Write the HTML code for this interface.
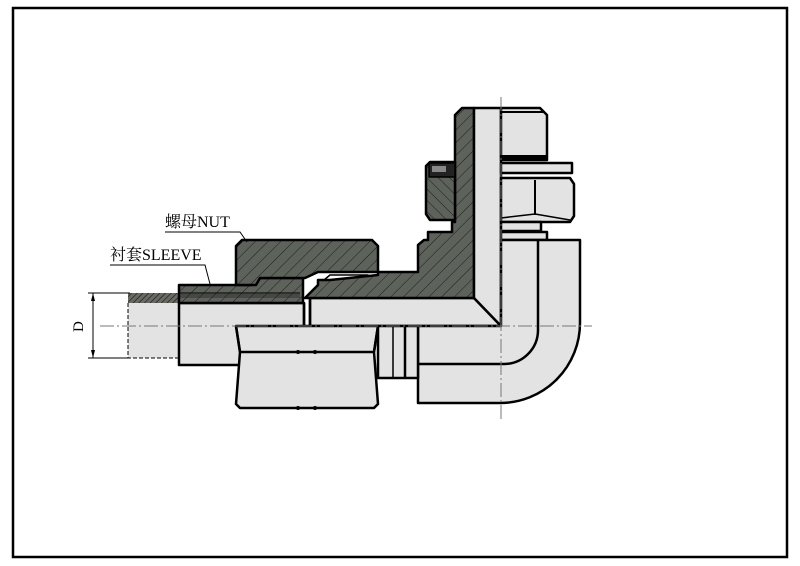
<!DOCTYPE html>
<html><head><meta charset="utf-8"><style>
html,body{margin:0;padding:0;background:#fff}
svg{display:block}
text{font-family:"Liberation Serif","Noto Serif CJK SC",serif}
</style></head><body>
<svg width="800" height="566" viewBox="0 0 800 566" xmlns="http://www.w3.org/2000/svg">
<defs>
<pattern id="h" width="9" height="9" patternUnits="userSpaceOnUse" patternTransform="rotate(45)">
<rect width="9" height="9" fill="#5d625b"/><line x1="0" y1="0" x2="0" y2="9" stroke="#1c1c1c" stroke-width="1"/>
</pattern>
<pattern id="h2" width="8" height="8" patternUnits="userSpaceOnUse" patternTransform="rotate(-45)">
<rect width="8" height="8" fill="#5d625b"/><line x1="0" y1="0" x2="0" y2="8" stroke="#1c1c1c" stroke-width="1"/>
</pattern>
<pattern id="hs" width="4" height="4" patternUnits="userSpaceOnUse" patternTransform="rotate(45)">
<rect width="4" height="4" fill="#6a6a64"/><line x1="0" y1="0" x2="0" y2="4" stroke="#111" stroke-width="1.2"/>
</pattern>
</defs>
<rect x="13" y="8" width="774" height="549" fill="#fff" stroke="#000" stroke-width="2.5"/>
<g stroke="#000" stroke-width="2.5" stroke-linejoin="round">
<!-- pipe -->
<rect x="128" y="303" width="52" height="55" fill="#e3e3e3" stroke="none"/>
<path d="M128 303 V358 H180" fill="none" stroke-width="1" stroke-dasharray="4,2"/>
<rect x="128" y="293" width="52" height="10" fill="url(#hs)" stroke="none"/>
<!-- sleeve / pipe inside -->
<rect x="179" y="303" width="125" height="62" fill="#e3e3e3"/>
<path d="M179 285 H252 L256 278 H303 V303 H179 Z" fill="url(#h)"/>
<line x1="179" y1="293" x2="300" y2="293" stroke-width="1"/>
<line x1="180" y1="296" x2="300" y2="296" stroke="#222" stroke-width="4" opacity=".4"/>
<!-- body horizontal bore -->
<path d="M310 298 H474 L501 326 V326 H310 Z" fill="#e3e3e3"/>
<line x1="304" y1="303" x2="304" y2="326"/><line x1="310" y1="298" x2="310" y2="326"/>
<!-- nut upper -->
<path d="M236 246 L242 240 H372 L378 246 V272 H318 L305 278 H260 L256 285 H236 Z" fill="url(#h)"/>
<path d="M318 285 L330 275 H368 Z" fill="#fff" stroke-width="1.5"/>
<!-- body dark -->
<path d="M305 298 L318 285 L318 280 H330 L378 275 V272 H418 V245 L424 240 H428 V232 H452 V222 H455 V115 L462 108 H474 V298 Z" fill="url(#h)"/>
<!-- O-ring nut -->
<path d="M426 166 L430 162 H455 V220 H430 L426 214 Z" fill="url(#h2)"/>
<rect x="429" y="163" width="26" height="14" fill="#222" stroke-width="1.5"/>
<rect x="432" y="166" width="14" height="6" fill="#888" stroke="none"/>
<!-- vertical bore -->
<path d="M474 108 H501 V326 L474 298 Z" fill="#e3e3e3"/>
<!-- bolt top -->
<path d="M501 108 H540 L547 115 V160 H501 Z" fill="#e3e3e3"/>
<line x1="501" y1="112" x2="545" y2="112" stroke-width="2"/>
<line x1="501" y1="157" x2="546" y2="157" stroke-width="4"/>
<rect x="501" y="163" width="71" height="10" fill="#e3e3e3"/>
<path d="M501 178 H570 L574 184 V216 L570 222 H501 Z" fill="#e3e3e3"/>
<line x1="535" y1="180" x2="535" y2="215" stroke-width="2"/>
<path d="M501 218 L535 214 L570 220" fill="none" stroke-width="1.5"/>
<rect x="501" y="222" width="40" height="9" fill="#e3e3e3"/>
<rect x="501" y="232" width="46" height="8" fill="#e3e3e3"/>
<!-- elbow -->
<path d="M418 326 H501 V240 H580 V323 A80 80 0 0 1 500 403 H418 Z" fill="#e3e3e3"/>
<path d="M538 240 V330 A34 34 0 0 1 504 364 H418" fill="none"/>
<!-- lower body pieces -->
<rect x="378" y="326" width="40" height="52" fill="#e3e3e3"/>
<line x1="405" y1="326" x2="405" y2="378"/><line x1="393" y1="326" x2="393" y2="378" stroke-width="1.5"/>
<!-- nut lower -->
<path d="M236 326 L240 352 L236 404 L240 408 H374 L378 404 L374 352 L378 326 Z" fill="#e3e3e3"/>
<line x1="240" y1="352" x2="374" y2="352"/>
<path d="M236 326 L240 352 M378 326 L374 352" fill="none"/>
</g>
<g fill="#000"><circle cx="298" cy="352" r="2"/><circle cx="315" cy="352" r="2"/><circle cx="298" cy="408" r="2"/><circle cx="315" cy="408" r="2"/></g>
<!-- centerlines -->
<g stroke="#777" stroke-width="1" stroke-dasharray="14,3,2,3" fill="none">
<line x1="100" y1="326" x2="592" y2="326"/>
<line x1="501" y1="97" x2="501" y2="420"/>
</g>
<!-- dimension D -->
<g stroke="#000" stroke-width="1">
<line x1="88" y1="293" x2="130" y2="293"/><line x1="88" y1="358" x2="130" y2="358"/>
<line x1="93" y1="293" x2="93" y2="358"/>
</g>
<path d="M93 293 l-2 8 h4 Z M93 358 l-2 -8 h4 Z" fill="#000"/>
<text x="0" y="0" font-size="15" transform="translate(83,332) rotate(-90)">D</text>
<!-- labels -->
<text x="165" y="227" font-size="16">螺母NUT</text>
<path d="M165 232 H240 L247 242" fill="none" stroke="#000" stroke-width="1"/>
<text x="110" y="260" font-size="16">衬套SLEEVE</text>
<path d="M110 265 H205 L210 284" fill="none" stroke="#000" stroke-width="1"/>
</svg>
</body></html>
